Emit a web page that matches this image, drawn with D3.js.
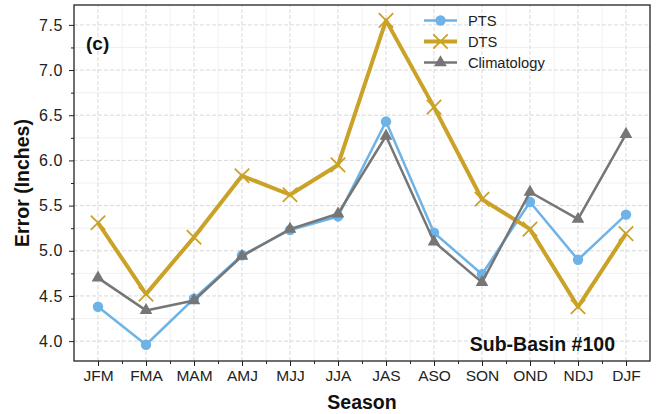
<!DOCTYPE html>
<html><head><meta charset="utf-8">
<script src="https://cdn.jsdelivr.net/npm/d3@7"></script>
<style>body{margin:0;background:#fff;}svg{display:block;font-family:"Liberation Sans",Arial,sans-serif;}</style>
</head><body>
<script>
const seasons = ["JFM","FMA","MAM","AMJ","MJJ","JJA","JAS","ASO","SON","OND","NDJ","DJF"];
const pts = [4.38,3.96,4.47,4.95,5.23,5.38,6.43,5.20,4.74,5.54,4.90,5.40];
const dts = [5.31,4.52,5.15,5.83,5.62,5.95,7.55,6.59,5.57,5.24,4.38,5.19];
const clim = [4.70,4.34,4.45,4.94,5.24,5.41,6.27,5.10,4.65,5.65,5.35,6.29];
const yTicks = [4.0,4.5,5.0,5.5,6.0,6.5,7.0,7.5];
const seriesNames = ["PTS","DTS","Climatology"];

const W=656,H=414;
const m={l:74,r:6,t:5,b:53};
const svg=d3.select("body").append("svg").attr("width",W).attr("height",H);
const x=d3.scaleLinear().domain([-0.5,11.5]).range([m.l,W-m.r]);
const y=d3.scaleLinear().domain([3.78,7.72]).range([H-m.b,m.t]);

const g=svg.append("g");
const xMinor=d3.range(-0.5,12,1).filter(v=>v>-0.5&&v<11.5);
const yMinor=d3.range(3.75,7.8,0.25).filter(v=>v>3.78&&v<7.72&&Math.abs(v*2-Math.round(v*2))>0.01);
g.selectAll(".xm").data(xMinor).enter().append("line").attr("x1",d=>x(d)).attr("x2",d=>x(d)).attr("y1",y(3.78)).attr("y2",y(7.72)).attr("stroke","#ececec").attr("stroke-width",0.8);
g.selectAll(".ym").data(yMinor).enter().append("line").attr("y1",d=>y(d)).attr("y2",d=>y(d)).attr("x1",x(-0.5)).attr("x2",x(11.5)).attr("stroke","#ececec").attr("stroke-width",0.8);
g.selectAll(".xg").data(d3.range(12)).enter().append("line").attr("x1",d=>x(d)).attr("x2",d=>x(d)).attr("y1",y(3.78)).attr("y2",y(7.72)).attr("stroke","#cfcfcf").attr("stroke-width",0.8).attr("stroke-dasharray","4,2");
g.selectAll(".yg").data(yTicks).enter().append("line").attr("y1",d=>y(d)).attr("y2",d=>y(d)).attr("x1",x(-0.5)).attr("x2",x(11.5)).attr("stroke","#cfcfcf").attr("stroke-width",0.8).attr("stroke-dasharray","4,2");

const xAxis=d3.axisBottom(x).tickValues(d3.range(12)).tickFormat(i=>seasons[i]).tickSize(5).tickPadding(4);
const ax=svg.append("g").attr("transform",`translate(0,${H-m.b})`).call(xAxis);
ax.select(".domain").remove();
ax.selectAll("text").attr("font-size",15.5).attr("fill","#222");
ax.selectAll("line").attr("stroke","#222");
svg.append("g").attr("transform",`translate(0,${H-m.b})`).call(d3.axisBottom(x).tickValues(xMinor).tickFormat("").tickSize(3)).call(s=>{s.select(".domain").remove();s.selectAll("line").attr("stroke","#222");});
const yAxis=d3.axisLeft(y).tickValues(yTicks).tickFormat(d3.format(".1f")).tickSize(5).tickPadding(6);
const ay=svg.append("g").attr("transform",`translate(${m.l},0)`).call(yAxis);
ay.select(".domain").remove();
ay.selectAll("text").attr("font-size",16).attr("letter-spacing","0.6px").attr("fill","#222");
ay.selectAll("line").attr("stroke","#222");
svg.append("g").attr("transform",`translate(${m.l},0)`).call(d3.axisLeft(y).tickValues(yMinor).tickFormat("").tickSize(3)).call(s=>{s.select(".domain").remove();s.selectAll("line").attr("stroke","#222");});

const colors={PTS:"#6db3e6",DTS:"#c9a227",Climatology:"#767676"};
const widths={PTS:2.5,DTS:4,Climatology:2.5};
const data={PTS:pts,DTS:dts,Climatology:clim};
const line=d3.line().x((d,i)=>x(i)).y(d=>y(d));
function marker(sel,name,cx,cy){
  const c=colors[name];
  if(name==="PTS") sel.append("circle").attr("cx",cx).attr("cy",cy).attr("r",5.2).attr("fill",c);
  else if(name==="DTS"){
    const s=7.2;
    sel.append("path").attr("d",`M${cx-s},${cy-s}L${cx+s},${cy+s}M${cx-s},${cy+s}L${cx+s},${cy-s}`).attr("stroke",c).attr("stroke-width",1.8).attr("fill","none");
  } else {
    sel.append("path").attr("d",d3.symbol().type(d3.symbolTriangle).size(70)()).attr("transform",`translate(${cx},${cy})`).attr("fill",c);
  }
}
["PTS","DTS","Climatology"].forEach(name=>{
  const gg=svg.append("g");
  gg.append("path").datum(data[name]).attr("d",line).attr("fill","none").attr("stroke",colors[name]).attr("stroke-width",widths[name]).attr("stroke-linejoin","round");
  data[name].forEach((v,i)=>marker(gg,name,x(i),y(v)));
});

svg.append("rect").attr("x",m.l).attr("y",m.t).attr("width",W-m.l-m.r).attr("height",H-m.t-m.b).attr("fill","none").attr("stroke","#222").attr("stroke-width",1.3);

seriesNames.forEach((name,i)=>{
  const ly=20.5+i*21;
  svg.append("line").attr("x1",424).attr("x2",457).attr("y1",ly).attr("y2",ly).attr("stroke",colors[name]).attr("stroke-width",widths[name]);
  marker(svg,name,440.5,ly);
  svg.append("text").attr("x",468).attr("y",ly).attr("dy","0.35em").attr("font-size",14.7).attr("fill","#222").text(name);
});

svg.append("text").attr("x",86).attr("y",43).attr("dy","0.35em").attr("font-size",19).attr("font-weight","bold").attr("fill","#111").text("(c)");
svg.append("text").attr("x",615).attr("y",344).attr("dy","0.35em").attr("text-anchor","end").attr("font-size",19.5).attr("font-weight","bold").attr("fill","#111").text("Sub-Basin #100");
svg.append("text").attr("x",(m.l+W-m.r)/2).attr("y",402).attr("dy","0.35em").attr("text-anchor","middle").attr("font-size",19.5).attr("font-weight","bold").attr("fill","#111").text("Season");
svg.append("text").attr("transform",`translate(22,${(m.t+H-m.b)/2}) rotate(-90)`).attr("dy","0.35em").attr("text-anchor","middle").attr("font-size",19.5).attr("font-weight","bold").attr("fill","#111").text("Error (Inches)");
</script>
</body></html>
